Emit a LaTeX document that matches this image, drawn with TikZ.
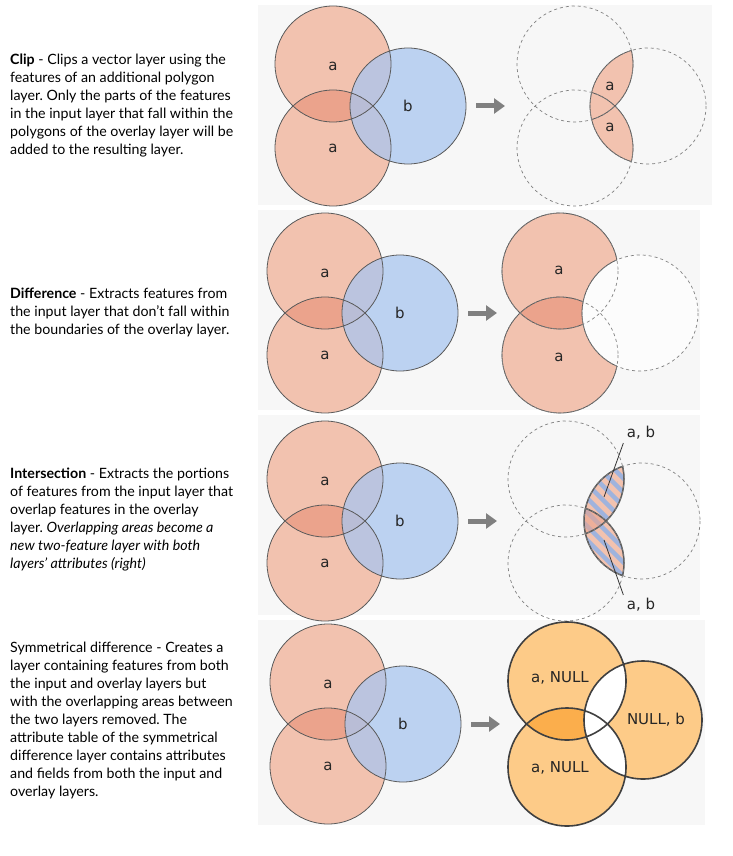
\documentclass[tikz,border=0pt]{standalone}
\usepackage{fontspec}
\setmainfont{Lato}
\newfontfamily\lblfont{DejaVu Sans}
\usetikzlibrary{arrows.meta}
\definecolor{panelbg}{HTML}{F7F7F7}
\definecolor{salmon}{HTML}{F2C2AF}
\definecolor{salmondk}{HTML}{EBA38C}
\definecolor{bluefill}{HTML}{A9C6F0}
\definecolor{stripe}{HTML}{9FB3DD}
\definecolor{edge}{HTML}{5A5A5A}
\definecolor{orng}{HTML}{FDCB88}
\definecolor{orngdk}{HTML}{FBAE4C}
\tikzset{
  panel/.style={fill=panelbg, draw=none},
  desc/.style={anchor=west, align=left, font=\fontsize{14.2}{18}\selectfont\frenchspacing, inner sep=0pt},
  lbl/.style={font=\lblfont\fontsize{15}{15}\selectfont, text=black!85},
  ring/.style={draw=edge, line width=0.8pt},
  dashring/.style={draw=gray, dashed, line width=0.7pt},
  bigarrow/.style={draw=gray, line width=5pt, -{Triangle[width=15pt,length=11pt]}},
}
\newcommand{\rad}{58}
\begin{document}
\begin{tikzpicture}[x=1pt,y=-1pt]
\useasboundingbox (0,0) rectangle (732,856);
% backgrounds
\fill[panel] (258,5) rectangle (712,205);
\fill[panel] (258,210) rectangle (700,410);
\fill[panel] (258,415) rectangle (700,615);
\fill[panel] (258,620) rectangle (705,825);
% descriptions
\node[desc] (tclip) at (10,106) {\textbf{Clip} - Clips a vector layer using the\\features of an additional polygon\\layer. Only the parts of the features\\in the input layer that fall within the\\polygons of the overlay layer will be\\added to the resulting layer.};
\node[desc] (tdiff) at (10,312) {\textbf{Difference} - Extracts features from\\the input layer that don’t fall within\\the boundaries of the overlay layer.};
\node[desc] (tint) at (10,520) {\textbf{Intersection} - Extracts the portions\\of features from the input layer that\\overlap features in the overlay\\layer. \textit{Overlapping areas become a}\\\textit{new two-feature layer with both}\\\textit{layers’ attributes (right)}};
\node[desc] (tsym) at (10,720) {Symmetrical difference - Creates a\\layer containing features from both\\the input and overlay layers but\\with the overlapping areas between\\the two layers removed. The\\attribute table of the symmetrical\\difference layer contains attributes\\and fields from both the input and\\overlay layers.};
% input trios
\foreach \cx/\cy/\n in {333/106/1, 325/313/2, 325/521/3, 328/724/4}{
  \fill[salmon] (\cx,\cy-42) circle (\rad) (\cx,\cy+42) circle (\rad);
  \begin{scope}
    \clip (\cx,\cy-42) circle (\rad);
    \fill[salmondk] (\cx,\cy+42) circle (\rad);
  \end{scope}
  \fill[bluefill, fill opacity=0.75] (\cx+75,\cy) circle (\rad);
  \draw[ring] (\cx,\cy-42) circle (\rad) (\cx,\cy+42) circle (\rad) (\cx+75,\cy) circle (\rad);
  \node[lbl] (ta\n) at (\cx,\cy-40) {a};
  \node[lbl] (ba\n) at (\cx,\cy+42) {a};
  \node[lbl] (b\n) at (\cx+75,\cy) {b};
  \coordinate (as\n) at (\cx+143,\cy);
  \coordinate (ae\n) at (\cx+172,\cy);
  \draw[bigarrow] (as\n) -- (ae\n);
}
% clip result
\begin{scope}
  \clip (648,106) circle (\rad);
  \fill[salmon] (575,64) circle (\rad) (575,148) circle (\rad);
  \draw[ring] (575,64) circle (\rad) (575,148) circle (\rad);
\end{scope}
\begin{scope}
  \clip (575,64) circle (\rad) (575,148) circle (\rad);
  \draw[ring] (648,106) circle (\rad);
\end{scope}
\draw[dashring] (575,64) circle (\rad) (575,148) circle (\rad) (648,106) circle (\rad);
\node[lbl] (clipa1) at (610,86) {a};
\node[lbl] (clipa2) at (610,127) {a};
% difference result
\fill[salmon] (560,271) circle (\rad) (560,355) circle (\rad);
\begin{scope}
  \clip (560,271) circle (\rad);
  \fill[salmondk] (560,355) circle (\rad);
\end{scope}
\draw[ring] (560,271) circle (\rad) (560,355) circle (\rad);
\fill[white!60!panelbg] (640,313) circle (\rad);
\begin{scope}
  \clip (560,271) circle (\rad) (560,355) circle (\rad);
  \draw[ring] (640,313) circle (\rad);
\end{scope}
\draw[dashring] (560,271) circle (\rad) (560,355) circle (\rad) (640,313) circle (\rad);
\node[lbl] (diffa1) at (559,270) {a};
\node[lbl] (diffa2) at (559,357) {a};
% intersection result
\foreach \ay in {479,563}{
  \begin{scope}
    \clip (642,521) circle (\rad);
    \clip (566,\ay) circle (\rad);
    \fill[salmon] (566,\ay) circle (\rad);
    \foreach \k in {-126,-112,...,126}
      \draw[stripe, line width=4.5pt] (610+\k-80,521-80) -- (610+\k+80,521+80);
  \end{scope}
}
\begin{scope}
  \clip (642,521) circle (\rad);
  \clip (566,479) circle (\rad);
  \fill[salmondk, fill opacity=0.6] (566,563) circle (\rad);
\end{scope}
\begin{scope}
  \clip (642,521) circle (\rad);
  \draw[draw=edge, line width=1.5pt] (566,479) circle (\rad) (566,563) circle (\rad);
\end{scope}
\begin{scope}
  \clip (566,479) circle (\rad) (566,563) circle (\rad);
  \draw[draw=edge, line width=1.5pt] (642,521) circle (\rad);
\end{scope}
\draw[dashring] (566,479) circle (\rad) (566,563) circle (\rad) (642,521) circle (\rad);
\node[lbl] (intab1) at (641,433) {a, b};
\node[lbl] (intab2) at (641,605) {a, b};
\coordinate (p1) at (604,497);
\coordinate (p2) at (604,540);
\draw[black!80, line width=0.8pt] (p1) -- (intab1.south west);
\draw[black!80, line width=0.8pt] (p2) -- (intab2.north west);
% symmetrical difference result
\fill[orng] (643,720) circle (59);
\fill[orng] (567,681) circle (59) (567,767) circle (59);
\begin{scope}
  \clip (567,681) circle (59);
  \fill[orngdk] (567,767) circle (59);
\end{scope}
\begin{scope}
  \clip (643,720) circle (59);
  \fill[white] (567,681) circle (59) (567,767) circle (59);
\end{scope}
\draw[draw=black!75, line width=1.6pt] (567,681) circle (59) (567,767) circle (59) (643,720) circle (59);
\node[lbl] (syma1) at (560,678) {a, NULL};
\node[lbl] (syma2) at (560,768) {a, NULL};
\node[lbl] (symb) at (656,720) {NULL, b};
\end{tikzpicture}
\end{document}
